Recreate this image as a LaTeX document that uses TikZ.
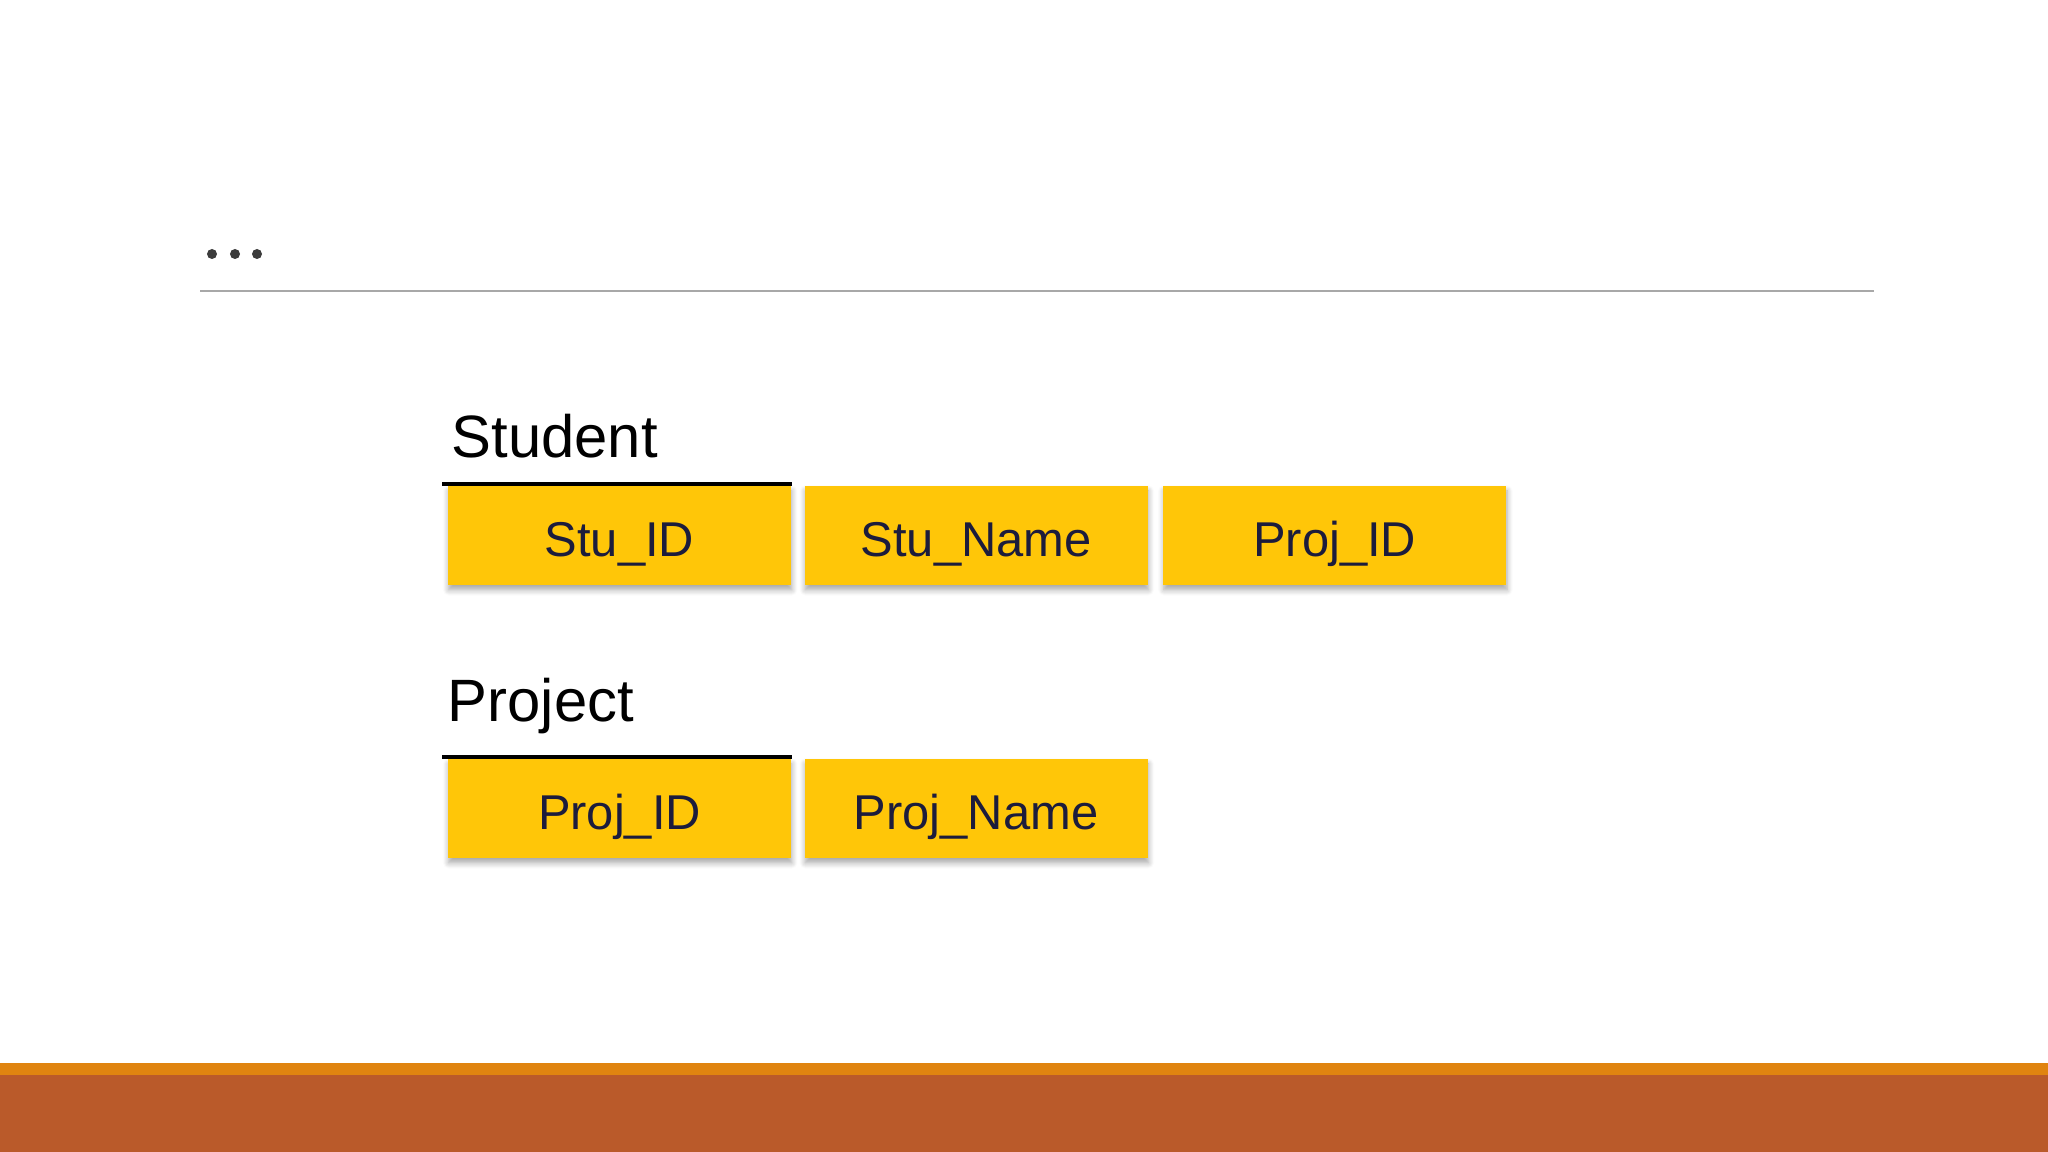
\documentclass[tikz,border=0pt]{standalone}
\usepackage{fontspec}
\setmainfont{Liberation Sans}
\usepackage{tikz}
\usetikzlibrary{positioning, shadows, shadows.blur}

\definecolor{boxgold}{HTML}{FFC608}
\definecolor{boxtext}{HTML}{1C1C3C}
\definecolor{barorange}{HTML}{E08410}
\definecolor{barbrown}{HTML}{BA5A2A}
\definecolor{rulegray}{HTML}{A8A8A8}
\definecolor{dotgray}{HTML}{3C3C3C}

\begin{document}
\begin{tikzpicture}[
  x=0.01cm, y=-0.01cm,
  every node/.style={font=\fontsize{13.9pt}{16pt}\selectfont, align=center},
  attrbox/.style={rectangle, fill=boxgold, text=boxtext, minimum width=3.43cm, minimum height=0.99cm, inner sep=0pt,
    text height=11.9pt, text depth=0pt,
    blur shadow={shadow xshift=0.2pt, shadow yshift=-1.4pt, shadow blur radius=1.6pt, shadow blur steps=6, shadow opacity=35}},
  tabletitle/.style={anchor=base west, inner sep=0pt, font=\fontsize{17pt}{20pt}\selectfont},
  keyline/.style={line width=1.1pt, black}
  ]
\useasboundingbox (0,0) rectangle (2048,1152);

% Header dots and rule
\foreach \dx [count=\i] in {212,235,257}
  \fill[dotgray] (\dx,254) circle (0.05cm);
\coordinate (ruleL) at (200,291);
\coordinate (ruleR) at (1874,291);
\draw[rulegray, line width=0.6pt] (ruleL) -- (ruleR);

% Student table
\node[tabletitle] (student) at (451,458) {Student};
\node[attrbox] (stuid) at (619.5,535.5) {Stu\_ID};
\node[attrbox, right=0.12cm of stuid] (stuname) {Stu\_Name};
\node[attrbox, right=0.14cm of stuname] (stuproj) {Proj\_ID};
\draw[keyline] ([xshift=-0.05cm, yshift=0.01cm]stuid.north west) -- ([yshift=0.01cm]stuid.north east);

% Project table
\node[tabletitle] (project) at (447,721) {Project};
\node[attrbox] (projid) at (619.5,808.5) {Proj\_ID};
\node[attrbox, right=0.12cm of projid] (projname) {Proj\_Name};
\draw[keyline] ([xshift=-0.05cm, yshift=0.01cm]projid.north west) -- ([yshift=0.01cm]projid.north east);

% Bottom bar
\fill[barbrown] (0,1075) rectangle (2048,1152);
\fill[barorange] (0,1063) rectangle (2048,1075);

\end{tikzpicture}
\end{document}
